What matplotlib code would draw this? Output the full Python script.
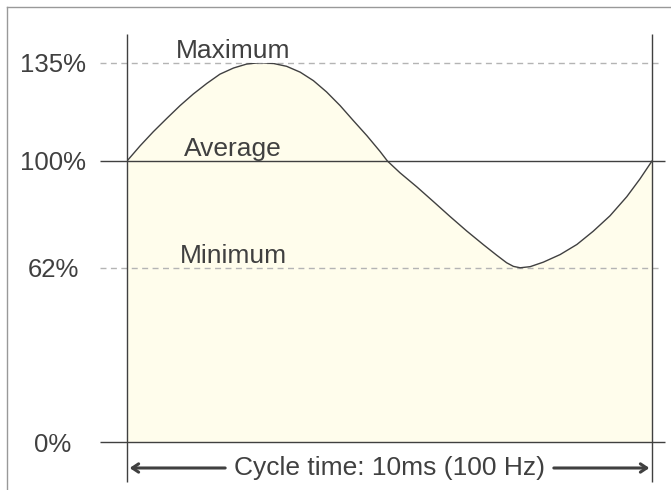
import matplotlib.pyplot as plt
from matplotlib.lines import Line2D

# power draw over one cycle
time_ms = [0, 0.25, 0.5, 0.76, 1.01, 1.26, 1.52, 1.77, 2.03, 2.28,
           2.53, 2.79, 3.04, 3.3, 3.55, 3.8, 4.06, 4.31, 4.57, 4.82,
           4.96, 5.2, 5.52, 5.84, 6.15, 6.47, 6.79, 7.04, 7.23, 7.36,
           7.49, 7.68, 7.93, 8.25, 8.57, 8.88, 9.2, 9.52, 9.77, 10]
load_pct = [100, 105.4, 110.4, 115.2, 119.7, 123.8, 127.6, 130.9, 133.1, 134.5,
            135, 134.7, 133.7, 131.6, 128.6, 124.6, 119.7, 114.4, 109.0, 103.4,
            100, 95.8, 90.8, 85.5, 80.3, 75.1, 70.2, 66.5, 63.8, 62.5,
            62, 62.4, 64, 66.7, 70.3, 75, 80.5, 87.3, 93.6, 100]

level_values = [135, 100, 62, 0]
level_ticks = ['135%', '100%', '62%', '0%']
level_names = ['Maximum', 'Average', 'Minimum']
cycle_text = 'Cycle time: 10ms (100 Hz)'

dark = '#404040'
light = '#b4b4b4'
fill_col = '#fffdec'

plt.rcParams['font.family'] = ['Liberation Sans', 'DejaVu Sans']

fig = plt.figure(figsize=(6.71, 4.90), dpi=100)
ax = fig.add_axes([127 / 671, 48 / 490, 525 / 671, 379.35 / 490])
ax.set_xlim(0, 10)
ax.set_ylim(0, 135)
for s in ax.spines.values():
    s.set_visible(False)
ax.set_xticks([])

# filled curve
ax.fill_between(time_ms, load_pct, 0, color=fill_col, lw=0, zorder=1)
ax.plot(time_ms, load_pct, color=dark, lw=1, zorder=3)

# reference levels
for v in level_values:
    if v in (135, 62):
        ax.hlines(v, -0.51, 10.15, color=light, lw=1, linestyles=(0, (4.3, 3.2)),
                  clip_on=False, zorder=2)
    else:
        ax.hlines(v, -0.51, 10.25, color=dark, lw=1, clip_on=False, zorder=2)
ax.vlines([0, 10], -14.2, 145.2, color=dark, lw=1, clip_on=False, zorder=4)

ax.set_yticks(level_values)
ax.set_yticklabels(level_ticks)
ax.tick_params(axis='y', length=0, pad=53.3, labelsize=18.5, labelcolor=dark)
for lab in ax.get_yticklabels():
    lab.set_ha('center')

# level names
for name, v in zip(level_names, [135, 100, 62]):
    ax.text(2.02, v + 1.8, name, ha='center', va='baseline', fontsize=19, color=dark)

# cycle arrow
ax.text(5, -9.25, cycle_text, ha='center', va='center', fontsize=19, color=dark,
        clip_on=False)
arrow = dict(arrowstyle='->,head_length=0.45,head_width=0.3', lw=2.2, color=dark,
             shrinkA=0, shrinkB=0)
ax.annotate('', xy=(0.05, -9.25), xytext=(1.87, -9.25), arrowprops=arrow,
            annotation_clip=False)
ax.annotate('', xy=(9.95, -9.25), xytext=(8.13, -9.25), arrowprops=arrow,
            annotation_clip=False)

# outer frame
fig.add_artist(Line2D([7 / 671, 1], [1 - 7.5 / 490] * 2, color='#999999', lw=1))
fig.add_artist(Line2D([7 / 671] * 2, [0, 1 - 7.5 / 490], color='#999999', lw=1))

fig.savefig('out.png', dpi=100)
